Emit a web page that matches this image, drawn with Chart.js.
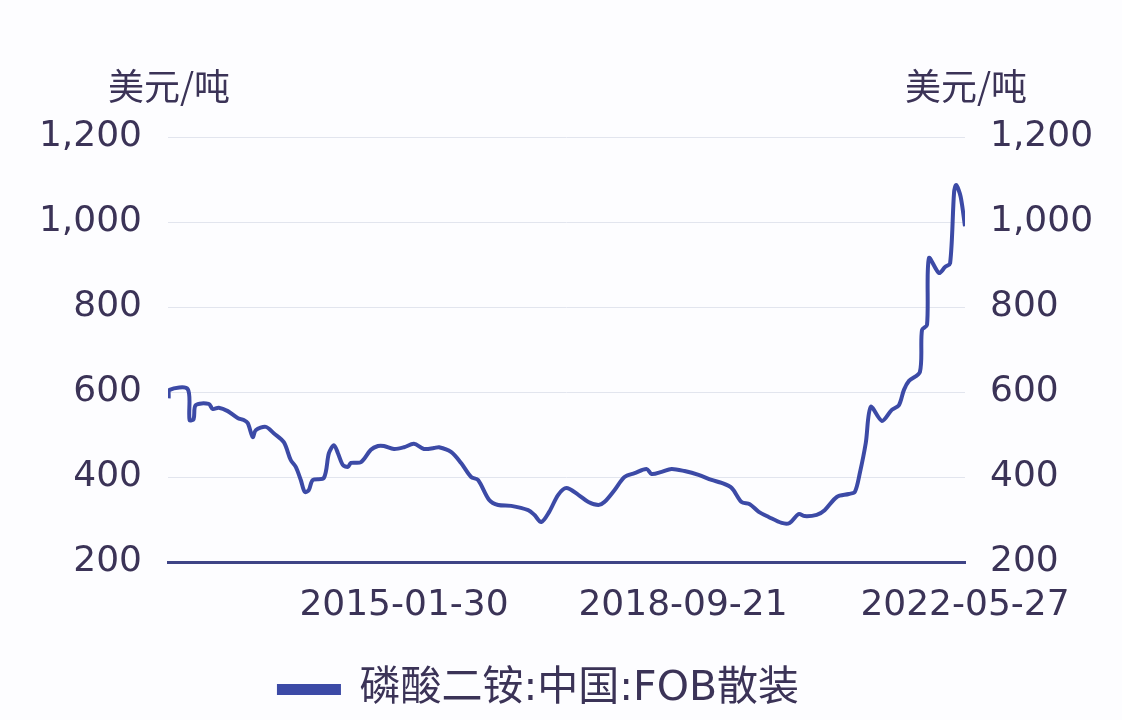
<!DOCTYPE html>
<html>
<head>
<meta charset="utf-8">
<script src="https://cdn.jsdelivr.net/npm/chart.js@4.4.1/dist/chart.umd.min.js"></script>
<style>
  html, body { margin: 0; padding: 0; background: #fdfdff; }
  #wrap { width: 1122px; height: 720px; }
</style>
</head>
<body>
<div id="wrap"><canvas id="chart" width="1122" height="720"></canvas></div>
<script>
// weekly DAP price
const dates = [
  '2012-01-04', '2012-01-09', '2012-04-04', '2012-04-13', '2012-05-02', '2012-05-12',
  '2012-07-13', '2012-08-01', '2012-08-30', '2012-10-12', '2012-11-28', '2012-12-27',
  '2013-01-15', '2013-02-08', '2013-02-22', '2013-04-11', '2013-05-19', '2013-07-06',
  '2013-08-08', '2013-09-01', '2013-09-25', '2013-10-14', '2013-11-02', '2013-11-21',
  '2014-01-13', '2014-02-06', '2014-03-02', '2014-03-21', '2014-04-14', '2014-05-08',
  '2014-05-22', '2014-07-09', '2014-08-25', '2014-09-28', '2014-10-26', '2014-12-13',
  '2015-01-30', '2015-03-18', '2015-05-05', '2015-06-22', '2015-07-16', '2015-09-11',
  '2015-10-29', '2015-12-16', '2016-01-18', '2016-03-11', '2016-04-23', '2016-06-24',
  '2016-09-13', '2016-10-12', '2016-11-14', '2016-12-22', '2017-02-03', '2017-03-14',
  '2017-05-10', '2017-06-27', '2017-08-14', '2017-09-11', '2017-10-29', '2017-12-16',
  '2018-02-02', '2018-03-31', '2018-04-24', '2018-06-11', '2018-07-28', '2018-09-28',
  '2018-12-04', '2019-02-04', '2019-03-24', '2019-05-11', '2019-06-27', '2019-08-05',
  '2019-09-17', '2019-11-03', '2020-01-04', '2020-02-11', '2020-03-25', '2020-04-23',
  '2020-06-19', '2020-07-27', '2020-09-23', '2020-11-19', '2020-12-18', '2021-01-11',
  '2021-02-08', '2021-03-04', '2021-04-26', '2021-06-12', '2021-07-16', '2021-08-09',
  '2021-09-02', '2021-10-24', '2021-11-03', '2021-11-27', '2021-12-06', '2022-01-23',
  '2022-02-21', '2022-03-17', '2022-04-05', '2022-04-15', '2022-05-06', '2022-05-27'
];
const prices = [
  585, 605, 607, 534, 536, 569,
  572, 560, 563, 555, 539, 534,
  527, 494, 510, 518, 503, 482,
  440, 424, 393, 365, 369, 393,
  398, 456, 475, 456, 428, 424,
  433, 435, 464, 473, 473, 466,
  470, 478, 466, 468, 470, 459,
  433, 400, 393, 346, 334, 332,
  322, 311, 294, 318, 358, 374,
  358, 341, 334, 341, 369, 400,
  409, 419, 407, 412, 419, 414,
  405, 393, 386, 374, 341, 336,
  318, 306, 292, 292, 313, 308,
  311, 322, 353, 360, 365, 410,
  480, 565, 532, 558, 569, 605,
  626, 647, 746, 758, 915, 880,
  894, 903, 1070, 1087, 1060, 990
];
const xTickDates = ['2015-01-30', '2018-09-21', '2022-05-27'];
const yTicks = [200, 400, 600, 800, 1000, 1200];
const seriesName = '磷酸二铵:中国:FOB散装';
const unitLabel = '美元/吨';

const toTime = s => {
  const p = s.split('-').map(Number);
  return Date.UTC(p[0], p[1] - 1, p[2]);
};
const fmtDate = v => new Date(v).toISOString().slice(0, 10);

const textColor = '#3b3357';
const lineColor = '#3c4aa6';
const FONT = "'DejaVu Sans', 'Noto Sans CJK SC', sans-serif";

// the unit captions sit above both y axes
const unitTitles = {
  id: 'unitTitles',
  afterLayout(chart) {
    // legend sits a bit left of centre in the original
    chart.legend.left -= 22;
    chart.legend.right -= 22;
  },
  afterDraw(chart) {
    const ctx = chart.ctx;
    const area = chart.chartArea;
    ctx.save();
    ctx.fillStyle = textColor;
    ctx.font = "36px 'Noto Sans CJK SC', sans-serif";
    ctx.textAlign = 'center';
    ctx.textBaseline = 'middle';
    ctx.fillText(unitLabel, area.left + 1, 86);
    ctx.fillText(unitLabel, area.right + 1, 86);
    ctx.restore();
  }
};

const ctx = document.getElementById('chart').getContext('2d');
new Chart(ctx, {
  type: 'line',
  data: {
    datasets: [{
      label: seriesName,
      data: dates.map((d, i) => ({ x: toTime(d), y: prices[i] })),
      borderColor: lineColor,
      backgroundColor: lineColor,
      borderWidth: 4,
      pointRadius: 0,
      tension: 0.3,
      yAxisID: 'y'
    }]
  },
  options: {
    responsive: false,
    animation: false,
    layout: { padding: { top: 137, bottom: 0 } },
    plugins: {
      legend: {
        position: 'bottom',
        labels: {
          color: textColor,
          font: { family: FONT, size: 41 },
          boxWidth: 60,
          boxHeight: 7,
          padding: 12
        }
      },
      tooltip: { enabled: false }
    },
    scales: {
      x: {
        type: 'linear',
        min: toTime('2012-01-01'),
        max: toTime('2022-05-27'),
        afterBuildTicks: scale => {
          scale.ticks = xTickDates.map(d => ({ value: toTime(d) }));
        },
        ticks: {
          color: textColor,
          font: { family: FONT, size: 36 },
          maxRotation: 0,
          autoSkip: false,
          padding: 14,
          callback: v => fmtDate(v)
        },
        grid: { display: false },
        border: { display: true, color: '#3f4486', width: 3 },
        afterFit: scale => { scale.height = 95; }
      },
      y: {
        position: 'left',
        min: 200,
        max: 1200,
        afterBuildTicks: scale => {
          scale.ticks = yTicks.map(v => ({ value: v }));
        },
        ticks: {
          color: textColor,
          font: { family: FONT, size: 36 },
          padding: 26,
          callback: v => v.toLocaleString('en-US')
        },
        grid: { color: '#e2e5ee', lineWidth: 1, drawTicks: false },
        border: { display: false },
        afterFit: scale => { scale.width = 168; }
      },
      y2: {
        position: 'right',
        min: 200,
        max: 1200,
        afterBuildTicks: scale => {
          scale.ticks = yTicks.map(v => ({ value: v }));
        },
        ticks: {
          color: textColor,
          font: { family: FONT, size: 36 },
          padding: 25,
          callback: v => v.toLocaleString('en-US')
        },
        grid: { display: false, drawTicks: false },
        border: { display: false },
        afterFit: scale => { scale.width = 157; }
      }
    }
  },
  plugins: [unitTitles]
});
</script>
</body>
</html>
